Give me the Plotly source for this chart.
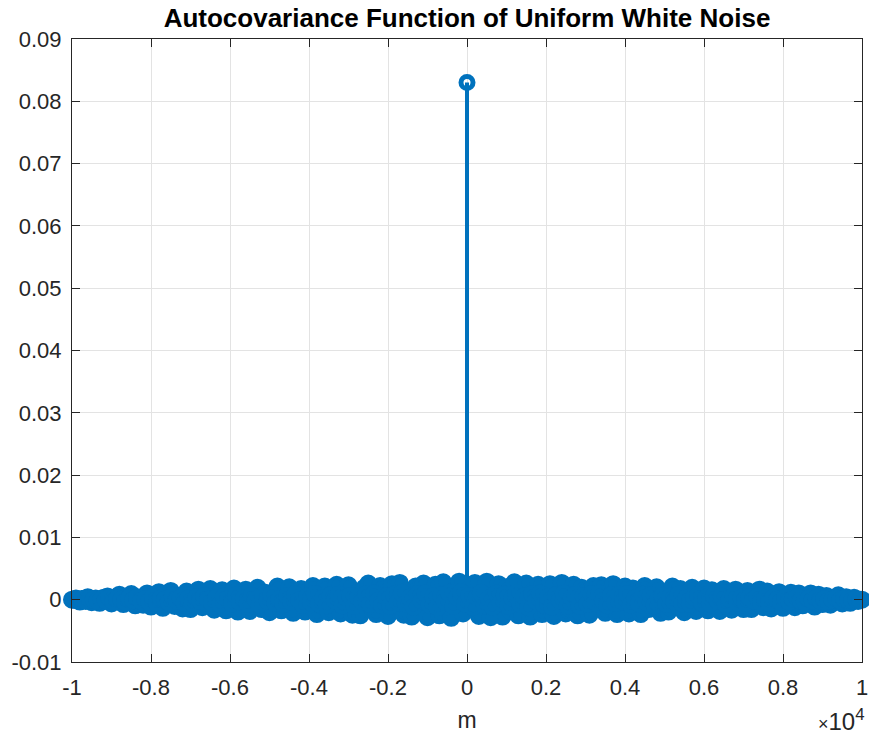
import plotly.graph_objects as go

# Lags (m) from -10000 to 10000 in steps of 100
lags = list(range(-10000, 10001, 100))

# Autocovariance values, in units of 1e-4
left_vals = [
    0, 2, -3, 1, 4, -4, 2, -5, 3, 5,
    -6, 2, 8, -7, 1, 9, -9, 3, -8, 10,
    -11, 4, 12, -13, -2, 14, -10, 6, -14, 13,
    -15, 3, 16, -12, -5, 17, -16, 8, 15, -17,
    2, 18, -19, 7, 16, -18, -3, 19, -15, 11,
    -20, 5, 21, -17, -8, 20, -21, 12, 17, -19,
    4, 22, -23, -9, 21, -20, 13, 24, -22, 1,
    23, -24, 10, -25, 19, 26, -12, -23, 22, 6,
    -26, 25, -7, 27, -24, 14, -27, 21, -11, 26,
    -28, 9, 24, -25, 28, -16, -29, 18, 29, -22,
]
center_val = 830
right_vals = [
    5, 27, -26, 12, 29, -28, -6, 25, -27, 20,
    -18, 28, -25, 3, 26, -27, 15, 24, -23, -10,
    25, -26, 8, 27, -22, -14, 24, -25, 19, 11,
    -24, 22, -6, 23, -21, 16, 25, -23, -2, 21,
    -22, 18, 9, -23, 22, -15, 14, 20, -21, 4,
    -19, 21, -8, 17, -20, 12, 19, -18, -5, 18,
    -17, 15, 6, -18, 17, -11, -16, 16, 10, -15,
    14, -15, -4, 16, -12, 13, -14, 7, 12, -13,
    3, 11, -12, 10, -9, -2, 10, -11, 8, -7,
    6, -8, 1, 7, -6, 4, -5, 3, -2, 0,
]

# In-between lags (m = -9950 ... 9950, step 100), smaller values, units of 1e-4
mid_lags = list(range(-9950, 9951, 100))
mid_left = [
    0, -1, 1, -2, 2, 0, -2, 1, -1, 3,
    -3, 2, 0, -4, 3, -1, 4, -2, 1, -3,
    4, -5, 2, 0, -4, 5, -1, 3, -5, 2,
    -6, 4, -2, 6, 0, -5, 3, -7, 5, 1,
    -6, 7, -3, 2, -7, 6, 0, -8, 4, -2,
    8, -5, 1, -7, 6, -3, 8, -1, -8, 5,
    -4, 9, -6, 2, -9, 7, -1, 8, -9, 3,
    6, -10, 4, -3, 9, -7, 10, -2, -9, 5,
    -10, 8, -4, 11, -6, 3, -11, 9, -1, 10,
    -8, 5, -12, 7, -3, 11, -10, 4, 12, -6,
]
mid_right = [
    6, -12, 4, 11, -9, 2, -11, 10, -5, 8,
    -10, 3, 11, -7, 5, -12, 9, -2, 10, -8,
    4, -11, 7, -1, 10, -9, 3, 8, -10, 6,
    -7, 9, -4, 10, -2, -9, 7, -5, 8, -3,
    9, -8, 2, -6, 8, -4, 7, -9, 1, 6,
    -7, 5, -3, 8, -6, 2, -7, 4, 7, -5,
    3, -6, 6, -2, 5, -7, 1, 6, -4, 3,
    -5, 4, -1, 5, -4, 2, -5, 3, 0, -4,
    3, -3, 1, 4, -2, -3, 2, -1, 3, -2,
    1, -2, 0, 2, -1, 1, 0, -1, 1, 0,
]

x_tickvals = [-10000, -8000, -6000, -4000, -2000, 0, 2000, 4000, 6000, 8000, 10000]
x_ticktext = ["-1", "-0.8", "-0.6", "-0.4", "-0.2", "0", "0.2", "0.4", "0.6", "0.8", "1"]
y_tickvals = [-0.01, 0, 0.01, 0.02, 0.03, 0.04, 0.05, 0.06, 0.07, 0.08, 0.09]
y_ticktext = ["-0.01", "0", "0.01", "0.02", "0.03", "0.04", "0.05", "0.06", "0.07", "0.08", "0.09"]

BLUE = "#0072BD"
FONT = "Liberation Sans, Arial, sans-serif"
AXC = "#262626"

acov = [v * 1e-4 for v in left_vals + [center_val] + right_vals]
mid_acov = [v * 1e-4 for v in mid_left + mid_right]

all_x = lags + mid_lags
all_y = acov + mid_acov

# stems
sx, sy = [], []
for m, v in zip(all_x, all_y):
    sx += [m, m, None]
    sy += [0, v, None]

noise_x = [m for m, v in zip(all_x, all_y) if m != 0]
noise_y = [v for m, v in zip(all_x, all_y) if m != 0]
peak_x = [m for m in lags if m == 0]
peak_y = [v for m, v in zip(lags, acov) if m == 0]

fig = go.Figure()
fig.add_trace(go.Scatter(x=sx, y=sy, mode="lines", cliponaxis=False,
                         line=dict(color=BLUE, width=4), hoverinfo="skip"))
fig.add_trace(go.Scatter(x=noise_x, y=noise_y, mode="markers", cliponaxis=False,
                         marker=dict(symbol="circle", size=14, color=BLUE,
                                     line=dict(color=BLUE, width=4))))
fig.add_trace(go.Scatter(x=peak_x, y=peak_y, mode="markers", cliponaxis=False,
                         marker=dict(symbol="circle-open", size=12, color=BLUE,
                                     line=dict(color=BLUE, width=5))))

axis_common = dict(
    showline=True, linecolor=AXC, linewidth=1, mirror="ticks",
    ticks="inside", ticklen=8, tickwidth=1, tickcolor=AXC,
    showgrid=True, gridcolor="#e3e3e3", gridwidth=1, zeroline=False,
    tickfont=dict(family=FONT, size=22, color=AXC),
    automargin=False,
)

fig.update_layout(
    width=869, height=739,
    margin=dict(l=72, r=7, t=39, b=77),
    plot_bgcolor="white", paper_bgcolor="white",
    showlegend=False,
    title=dict(text="<b>Autocovariance Function of Uniform White Noise</b>",
               x=467 / 869, xanchor="center", y=1 - 18 / 739, yanchor="middle",
               font=dict(family=FONT, size=26, color="black")),
    xaxis=dict(range=[-10000, 10000], tickvals=x_tickvals, ticktext=x_ticktext,
               ticklabelstandoff=6,
               title=dict(text="m", font=dict(family=FONT, size=23, color=AXC),
                          standoff=12),
               **axis_common),
    yaxis=dict(range=[-0.01, 0.09], tickvals=y_tickvals, ticktext=y_ticktext,
               ticklabelstandoff=5,
               **axis_common),
    annotations=[dict(text="<span style='font-size:18px'>×</span>10<sup>4</sup>",
                      xref="paper", yref="paper",
                      x=1.006, y=-0.12, xanchor="right", yanchor="bottom",
                      showarrow=False,
                      font=dict(family=FONT, size=24, color=AXC))],
)

fig.write_html("out.html")
